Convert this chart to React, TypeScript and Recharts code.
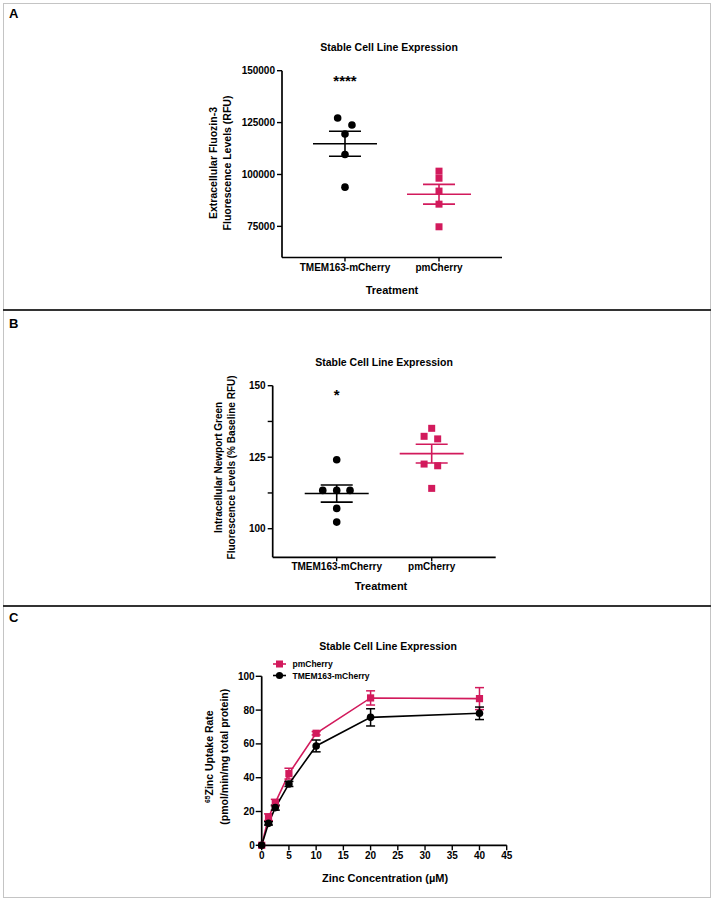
import React from 'react';
import { ScatterChart, Scatter, XAxis, YAxis, ErrorBar, LineChart, Line, Legend } from 'recharts';

const FONT = '"Liberation Sans", Arial, Helvetica, sans-serif';
const CRIMSON = '#D21A5C';
const BLACK = '#000000';

// ---------- Panel A data ----------
const groupsA = ['TMEM163-mCherry', 'pmCherry'];
const tmemA = [127200, 123850, 119500, 109600, 93900];
const tmemAJitter = [-0.078, 0.074, 0, 0, 0];
const pmA = [101600, 98200, 92000, 85700, 74800];
const pmAJitter = [0, 0, 0, 0, 0];
const yTicksA = [75000, 100000, 125000, 150000];
const yDomainA = [60000, 150000];
const sigA = { label: '****', group: 0, y: 146800 };

// ---------- Panel B data ----------
const groupsB = ['TMEM163-mCherry', 'pmCherry'];
const tmemB = [124.1, 113.4, 113.4, 113.4, 107.1, 102.3];
const tmemBJitter = [0, -0.147, 0, 0.14, 0, 0];
const pmB = [135.1, 132.3, 131.4, 122.6, 122.0, 114.1];
const pmBJitter = [0, -0.08, 0.063, -0.08, 0.063, 0];
const yTicksB = [100, 112.5, 125, 137.5, 150];
const yDomainB = [90, 150];
const sigB = { label: '*', group: 0, y: 147.9 };

// ---------- Panel C data ----------
const zincConc = [0, 1.25, 2.5, 5, 10, 20, 40];
const pmC = [0, 16.6, 25.2, 42.4, 66.3, 87.2, 86.8];
const pmCErr = [0, 2, 2, 3.2, 1, 4.2, 6.5];
const tmemC = [0, 13, 22.3, 36.3, 58.8, 75.7, 78.1];
const tmemCErr = [0, 1, 1.5, 1.5, 3.5, 5.1, 3.7];
const xTicksC = [0, 5, 10, 15, 20, 25, 30, 35, 40, 45];
const yTicksC = [0, 20, 40, 60, 80, 100];

// ---------- helpers ----------
const mean = (a: number[]) => a.reduce((s, v) => s + v, 0) / a.length;
const sem = (a: number[]) => {
  const m = mean(a);
  const sd = Math.sqrt(a.reduce((s, v) => s + (v - m) * (v - m), 0) / (a.length - 1));
  return sd / Math.sqrt(a.length);
};
const points = (values: number[], jitter: number[], group: number) =>
  values.map((v, i) => ({ x: group + jitter[i], y: v }));
const summary = (values: number[], group: number) => [{ x: group, y: mean(values), err: sem(values) }];

const circleShape = (color: string, r: number) => (p: any) =>
  <circle cx={p.cx} cy={p.cy} r={r} fill={color} />;
const squareShape = (color: string, s: number) => (p: any) =>
  <rect x={p.cx - s / 2} y={p.cy - s / 2} width={s} height={s} fill={color} />;
const meanShape = (color: string, half: number) => (p: any) =>
  <line x1={p.cx - half} x2={p.cx + half} y1={p.cy} y2={p.cy} stroke={color} strokeWidth={1.6} />;
const textShape = (label: string, size: number) => (p: any) =>
  <text x={p.cx} y={p.cy + size * 0.57} textAnchor="middle" fontSize={size} fontWeight="bold" fontFamily={FONT} fill={BLACK}>{label}</text>;

const tickStyle = (size: number) => ({ fontSize: size, fontWeight: 'bold' as const, fontFamily: FONT, fill: BLACK });
const axisLine = { stroke: BLACK, strokeWidth: 1.7 };
const tickLine = { stroke: BLACK, strokeWidth: 1.4 };

function HText({ cx, cy, text, size }: { cx: number; cy: number; text: React.ReactNode; size: number }) {
  const lh = size + 2;
  return (
    <div style={{ position: 'absolute', left: cx - 200, width: 400, top: cy - lh / 2, height: lh, lineHeight: lh + 'px', textAlign: 'center', fontFamily: FONT, fontWeight: 'bold', fontSize: size, color: BLACK, whiteSpace: 'nowrap' }}>{text}</div>
  );
}

function RotLabel({ cx, cy, lines, size, lineHeight }: { cx: number; cy: number; lines: React.ReactNode[]; size: number; lineHeight: number }) {
  const w = 240;
  const h = lines.length * lineHeight;
  return (
    <div style={{ position: 'absolute', left: cx - w / 2, top: cy - h / 2, width: w, height: h, transform: 'rotate(-90deg)', textAlign: 'center', fontFamily: FONT, fontWeight: 'bold', fontSize: size, lineHeight: lineHeight + 'px', whiteSpace: 'nowrap', color: BLACK }}>
      {lines.map((l, i) => <div key={i}>{l}</div>)}
    </div>
  );
}

function PanelLetter({ top, letter }: { top: number; letter: string }) {
  return <div style={{ position: 'absolute', left: 9, top, fontFamily: FONT, fontWeight: 'bold', fontSize: 13, lineHeight: '13px', color: BLACK }}>{letter}</div>;
}

type DotProps = {
  groups: string[];
  tm: number[]; tmJ: number[]; pm: number[]; pmJ: number[];
  yDomain: number[]; yTicks: number[]; xDomain: number[];
  sig: { label: string; group: number; y: number }; sigSize: number;
  height: number; margin: { top: number; right: number; bottom: number; left: number };
  yFmt: (v: number) => string;
};

function DotPlot(p: DotProps) {
  return (
    <ScatterChart width={713} height={p.height} margin={p.margin}>
      <XAxis type="number" dataKey="x" domain={p.xDomain} ticks={[0, 1]} interval={0}
        tickFormatter={(v: number) => p.groups[v] ?? ''} tick={tickStyle(10)} axisLine={axisLine} tickLine={tickLine} tickSize={4} tickMargin={2} height={30} />
      <YAxis type="number" dataKey="y" domain={p.yDomain} ticks={p.yTicks} interval={0}
        tickFormatter={p.yFmt} tick={tickStyle(10)} axisLine={axisLine} tickLine={tickLine} tickSize={5} tickMargin={2} width={60} />
      <Scatter data={points(p.tm, p.tmJ, 0)} fill={BLACK} shape={circleShape(BLACK, 3.8)} isAnimationActive={false} />
      <Scatter data={points(p.pm, p.pmJ, 1)} fill={CRIMSON} shape={squareShape(CRIMSON, 7)} isAnimationActive={false} />
      <Scatter data={summary(p.tm, 0)} fill={BLACK} shape={meanShape(BLACK, 32)} isAnimationActive={false}>
        <ErrorBar dataKey="err" direction="y" width={16} stroke={BLACK} strokeWidth={1.6} />
      </Scatter>
      <Scatter data={summary(p.pm, 1)} fill={CRIMSON} shape={meanShape(CRIMSON, 32)} isAnimationActive={false}>
        <ErrorBar dataKey="err" direction="y" width={16} stroke={CRIMSON} strokeWidth={1.6} />
      </Scatter>
      <Scatter data={[{ x: p.sig.group, y: p.sig.y }]} fill={BLACK} shape={textShape(p.sig.label, p.sigSize)} isAnimationActive={false} />
    </ScatterChart>
  );
}

const seriesC = [
  { key: 'pm', err: 'pmErr', name: 'pmCherry', color: CRIMSON, marker: 'square' },
  { key: 'tm', err: 'tmErr', name: 'TMEM163-mCherry', color: BLACK, marker: 'circle' },
];
const tableC = zincConc.map((x, i) => ({ x, pm: pmC[i], pmErr: pmCErr[i], tm: tmemC[i], tmErr: tmemCErr[i] }));

const renderLegendC = () => (
  <svg width={130} height={26}>
    {seriesC.map((s, i) => {
      const cy = 6 + i * 11.5;
      return (
        <g key={s.key}>
          <line x1={3} x2={16} y1={cy} y2={cy} stroke={s.color} strokeWidth={1.6} />
          {s.marker === 'square'
            ? <rect x={9.5 - 3.5} y={cy - 3.5} width={7} height={7} fill={s.color} />
            : <circle cx={9.5} cy={cy} r={3.6} fill={s.color} />}
          <text x={22.5} y={cy + 3} fontSize={8.5} fontWeight="bold" fontFamily={FONT} fill={BLACK}>{s.name}</text>
        </g>
      );
    })}
  </svg>
);

function UptakeChart() {
  return (
    <LineChart width={713} height={290} data={tableC} margin={{ top: 70.3, right: 206.3, bottom: 20.7, left: 201.7 }}>
      <XAxis type="number" dataKey="x" domain={[0, 45]} ticks={xTicksC} interval={0}
        tick={tickStyle(10)} axisLine={axisLine} tickLine={tickLine} tickSize={5} tickMargin={2} height={30} />
      <YAxis type="number" domain={[0, 100]} ticks={yTicksC} interval={0}
        tick={tickStyle(10)} axisLine={axisLine} tickLine={tickLine} tickSize={6} tickMargin={1} width={60} />
      <Legend layout="vertical" align="center" verticalAlign="middle" content={renderLegendC}
        wrapperStyle={{ left: 270, top: 52, width: 130, height: 26 }} />
      {seriesC.map((s) => (
        <Line key={s.key} dataKey={s.key} name={s.name} stroke={s.color} strokeWidth={1.6} isAnimationActive={false}
          dot={(d: any) => s.marker === 'square'
            ? <rect key={d.index} x={d.cx - 3.6} y={d.cy - 3.6} width={7.2} height={7.2} fill={s.color} />
            : <circle key={d.index} cx={d.cx} cy={d.cy} r={3.8} fill={s.color} />}
          activeDot={false}>
          <ErrorBar dataKey={s.err} direction="y" width={4.5} stroke={s.color} strokeWidth={1.5} />
        </Line>
      ))}
    </LineChart>
  );
}

export default function App() {
  return (
    <div style={{ position: 'absolute', left: 0, top: 0, width: 713, height: 900, background: '#fff', overflow: 'hidden' }}>
      {/* frame */}
      <div style={{ position: 'absolute', left: 3, top: 3, width: 706, height: 893, border: '1px solid #c4c4c4' }} />
      <div style={{ position: 'absolute', left: 3, top: 309, width: 708, height: 2, background: '#333' }} />
      <div style={{ position: 'absolute', left: 3, top: 605, width: 708, height: 2, background: '#333' }} />

      {/* Panel A */}
      <div style={{ position: 'absolute', left: 0, top: 0 }}>
        <DotPlot groups={groupsA} tm={tmemA} tmJ={tmemAJitter} pm={pmA} pmJ={pmAJitter}
          yDomain={yDomainA} yTicks={yTicksA} xDomain={[-0.67, 1.67]} sig={sigA} sigSize={15}
          height={310} margin={{ top: 70.7, right: 211, bottom: 22.5, left: 222 }} yFmt={(v) => String(v)} />
      </div>
      <PanelLetter top={7.3} letter="A" />
      <HText cx={389} cy={47.3} text="Stable Cell Line Expression" size={10.5} />
      <HText cx={392} cy={290} text="Treatment" size={11} />
      <RotLabel cx={220} cy={163} size={10.5} lineHeight={14}
        lines={['Extracellular Fluozin-3', 'Fluorescence Levels (RFU)']} />

      {/* Panel B */}
      <div style={{ position: 'absolute', left: 0, top: 310 }}>
        <DotPlot groups={groupsB} tm={tmemB} tmJ={tmemBJitter} pm={pmB} pmJ={pmBJitter}
          yDomain={yDomainB} yTicks={yTicksB} xDomain={[-0.674, 1.674]} sig={sigB} sigSize={15}
          height={296} margin={{ top: 75.7, right: 217.3, bottom: 18.7, left: 212.7 }}
          yFmt={(v) => (v % 25 === 0 ? String(v) : '')} />
      </div>
      <PanelLetter top={317.3} letter="B" />
      <HText cx={384} cy={362.7} text="Stable Cell Line Expression" size={10.5} />
      <HText cx={381} cy={586.7} text="Treatment" size={11} />
      <RotLabel cx={225} cy={467} size={10} lineHeight={13.4}
        lines={['Intracellular Newport Green', 'Fluorescence Levels (% Baseline RFU)']} />

      {/* Panel C */}
      <div style={{ position: 'absolute', left: 0, top: 606 }}>
        <UptakeChart />
      </div>
      <PanelLetter top={611.3} letter="C" />
      <HText cx={388} cy={646.7} text="Stable Cell Line Expression" size={10.5} />
      <HText cx={385} cy={878.3} text="Zinc Concentration (µM)" size={11} />
      <RotLabel cx={216.4} cy={757} size={10.5} lineHeight={12.7}
        lines={[<span key="a"><span style={{ fontSize: '0.65em', position: 'relative', top: '-0.45em' }}>65</span>Zinc Uptake Rate</span>, '(pmol/min/mg total protein)']} />
    </div>
  );
}
